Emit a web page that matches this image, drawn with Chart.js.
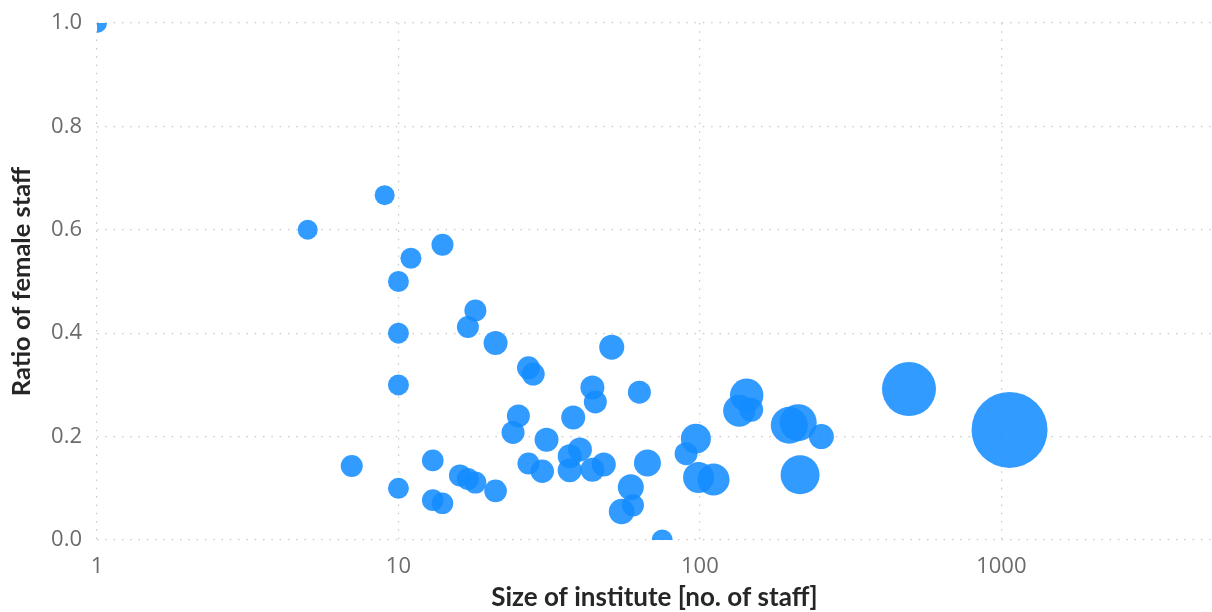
<!DOCTYPE html>
<html>
<head>
<meta charset="utf-8">
<script src="https://cdn.jsdelivr.net/npm/chart.js@4/dist/chart.umd.min.js"></script>
<style>
  html, body { margin: 0; padding: 0; background: #ffffff; }
  #wrap { width: 1212px; height: 612px; }
</style>
</head>
<body>
<div id="wrap"><canvas id="chart" width="1212" height="612"></canvas></div>
<script>
// Institute size (number of staff)
const staff = [1, 5, 7, 9, 10, 10, 10, 10, 11, 13, 13, 14, 14, 16, 17, 17, 18, 18, 21, 21,
  24, 25, 27, 28, 27, 30, 31, 37, 37, 38, 40, 44, 45, 44, 48, 51, 55, 59, 60, 63,
  67, 75, 90, 97, 99, 111, 135, 143, 148, 198, 212, 215, 253, 494, 1065];

// Share of female staff per institute
const femaleRatio = [1.0, 0.6, 0.143, 0.667, 0.5, 0.4, 0.3, 0.1, 0.545, 0.154, 0.077, 0.571, 0.071, 0.125, 0.412, 0.118, 0.444, 0.111, 0.381, 0.095,
  0.208, 0.24, 0.333, 0.321, 0.148, 0.133, 0.194, 0.162, 0.135, 0.237, 0.175, 0.295, 0.267, 0.136, 0.146, 0.373, 0.055, 0.102, 0.067, 0.286,
  0.149, 0.0, 0.167, 0.196, 0.121, 0.117, 0.25, 0.28, 0.252, 0.222, 0.227, 0.126, 0.2, 0.292, 0.213];

// Bubble weight (third dimension, drawn as bubble area)
const weight = [100, 100, 121, 100, 110, 110, 110, 110, 110, 117, 117, 121, 117, 121, 121, 121, 121, 121, 144, 128,
  132, 132, 132, 132, 121, 137, 144, 144, 144, 144, 144, 144, 132, 144, 144, 156, 164, 169, 121, 132,
  182, 110, 132, 225, 240, 256, 256, 279, 144, 342, 342, 380, 156, 729, 1444];

const xTickValues = [1, 10, 100, 1000];
const yTickLabels = ['0.0', '0.2', '0.4', '0.6', '0.8', '1.0'];

const points = staff.map((s, i) => ({ x: s, y: femaleRatio[i], r: Math.sqrt(weight[i]) }));

const tickFont = { family: "'Open Sans', sans-serif", size: 22 };
const gridStyle = { color: '#c8c8c8', lineWidth: 1.2, drawTicks: false };
const gridBorder = { display: false, dash: [1.5, 6.8] };

new Chart(document.getElementById('chart'), {
  type: 'bubble',
  data: {
    datasets: [{
      data: points,
      backgroundColor: 'rgba(20, 140, 255, 0.87)',
      borderWidth: 0,
      hoverBorderWidth: 0
    }]
  },
  options: {
    responsive: false,
    animation: false,
    layout: { autoPadding: false, padding: { top: 23, right: 0, left: 0, bottom: 0 } },
    plugins: { legend: { display: false }, tooltip: { enabled: false } },
    scales: {
      x: {
        type: 'logarithmic',
        min: 1,
        max: 5000,
        afterBuildTicks: axis => { axis.ticks = xTickValues.map(v => ({ value: v })); },
        afterFit: axis => { axis.height = 72; axis.paddingLeft = 0; axis.paddingRight = 0; },
        border: gridBorder,
        grid: gridStyle,
        ticks: {
          color: '#6b6b6b',
          font: tickFont,
          padding: 14,
          maxRotation: 0,
          autoSkip: false,
          callback: v => String(v)
        },
        title: {
          display: true,
          text: 'Size of institute [no. of staff]',
          color: '#262626',
          font: { family: "Lato, 'Open Sans', sans-serif", size: 26, weight: 'bold', lineHeight: 1.1 },
          padding: { top: 0, bottom: 0 }
        }
      },
      y: {
        min: 0,
        max: 1,
        afterFit: axis => { axis.width = 97; axis.paddingTop = 0; axis.paddingBottom = 0; },
        border: gridBorder,
        grid: gridStyle,
        ticks: {
          stepSize: 0.2,
          color: '#6b6b6b',
          font: tickFont,
          padding: 15,
          callback: (v, i) => yTickLabels[i]
        },
        title: {
          display: true,
          text: 'Ratio of female staff',
          color: '#262626',
          font: { family: "Lato, 'Open Sans', sans-serif", size: 25.5, weight: 'bold', lineHeight: 1.1 },
          padding: { top: 8, bottom: 0 }
        }
      }
    }
  }
});
</script>
</body>
</html>
